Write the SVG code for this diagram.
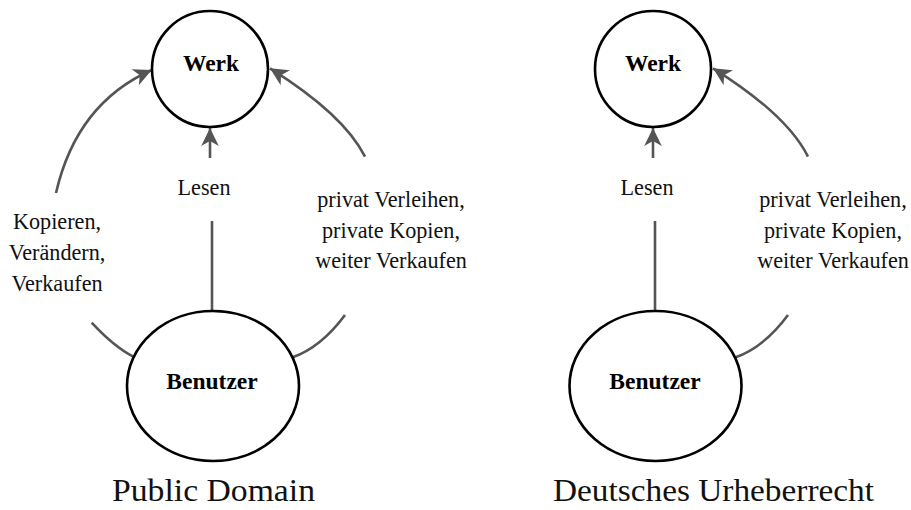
<svg xmlns="http://www.w3.org/2000/svg" width="911" height="510" viewBox="0 0 911 510">
<style>
.node{fill:#fff;stroke:#000;stroke-width:2.6}
.edge{fill:none;stroke:#555;stroke-width:2.6}
.lbl{font-family:"Liberation Serif","Times New Roman",serif;font-size:22.2px;fill:#111;text-anchor:middle}
.nl{font-family:"Liberation Serif","Times New Roman",serif;font-size:23.5px;font-weight:bold;fill:#000;text-anchor:middle}
.ttl{font-family:"Liberation Serif","Times New Roman",serif;font-size:32px;fill:#111;text-anchor:middle}
</style>
<defs>
<marker id="arr" markerUnits="userSpaceOnUse" markerWidth="24" markerHeight="24" viewBox="-20 -12 24 24" refX="0" refY="0" orient="auto">
<path d="M0,0 L-18,-8.8 L-13,0 L-18,8.8 Z" fill="#555"/>
</marker>
</defs>
<g id="connectors">
<path class="edge" d="M56,193 Q76.6,103.4 151.7,70" marker-end="url(#arr)"/>
<path class="edge" d="M365,156.7 Q344,114.5 270,68.3" marker-end="url(#arr)"/>
<path class="edge" d="M210,158 L210,128" marker-end="url(#arr)"/>
<path class="edge" d="M212,221 L212,311"/>
<path class="edge" d="M91.7,322.7 Q114.1,346.9 133.3,356.7"/>
<path class="edge" d="M345,315 Q321.1,347.2 292.7,357.3"/>
<path class="edge" d="M808,156.7 Q787,114.5 713,68.3" marker-end="url(#arr)"/>
<path class="edge" d="M653,158 L653,128" marker-end="url(#arr)"/>
<path class="edge" d="M655,221 L655,311"/>
<path class="edge" d="M788,315 Q764.1,347.2 735.7,357.3"/>
</g>
<g id="labels">
<text class="lbl" x="204" y="195">Lesen</text>
<text class="lbl" x="57" y="229">Kopieren,</text>
<text class="lbl" x="57" y="260">Verändern,</text>
<text class="lbl" x="57" y="291">Verkaufen</text>
<text class="lbl" x="391" y="207">privat Verleihen,</text>
<text class="lbl" x="391" y="237.5">private Kopien,</text>
<text class="lbl" x="391" y="268">weiter Verkaufen</text>
<text class="lbl" x="647" y="195">Lesen</text>
<text class="lbl" x="833" y="207">privat Verleihen,</text>
<text class="lbl" x="833" y="237.5">private Kopien,</text>
<text class="lbl" x="833" y="268">weiter Verkaufen</text>
</g>
<g id="werk-pd">
<circle class="node" cx="210" cy="69" r="58"/>
<text class="nl" x="211" y="71">Werk</text>
</g>
<g id="benutzer-pd">
<ellipse class="node" cx="213" cy="386" rx="86" ry="75"/>
<text class="nl" x="212" y="389">Benutzer</text>
</g>
<g id="werk-de">
<circle class="node" cx="653" cy="69" r="58"/>
<text class="nl" x="653" y="71">Werk</text>
</g>
<g id="benutzer-de">
<ellipse class="node" cx="655.5" cy="386" rx="86" ry="75"/>
<text class="nl" x="655" y="389">Benutzer</text>
</g>
<g id="titles">
<text class="ttl" x="213.5" y="501" textLength="203" lengthAdjust="spacingAndGlyphs">Public Domain</text>
<text class="ttl" x="713.5" y="501" textLength="321" lengthAdjust="spacingAndGlyphs">Deutsches Urheberrecht</text>
</g>
</svg>
